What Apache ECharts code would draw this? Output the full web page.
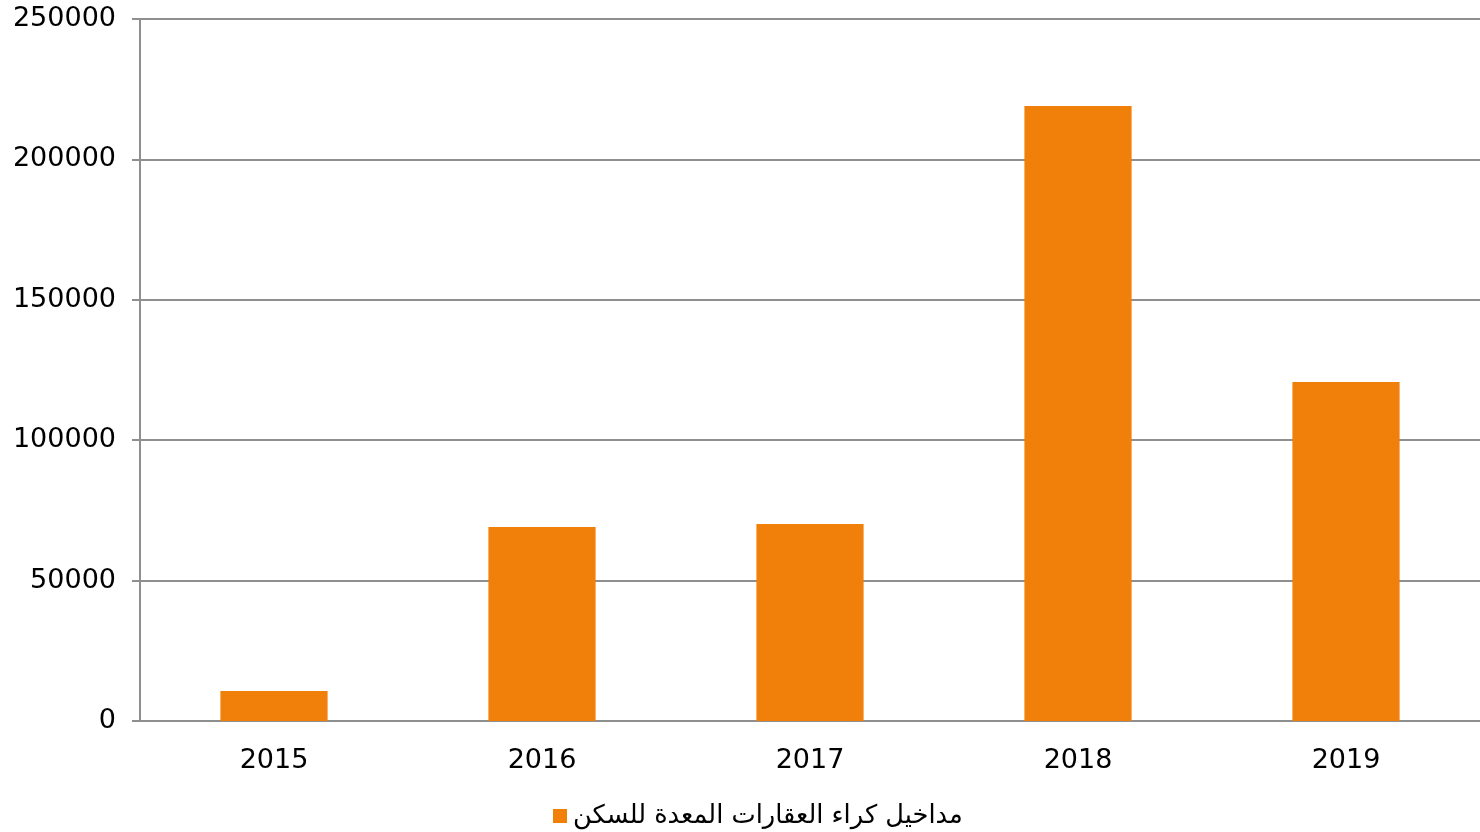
<!DOCTYPE html>
<html>
<head>
<meta charset="utf-8">
<script src="https://cdn.jsdelivr.net/npm/echarts@6/dist/echarts.min.js"></script>
<style>
  html, body { margin: 0; padding: 0; background: #fff; }
  #chart { width: 1480px; height: 832px; }
</style>
</head>
<body>
<div id="chart"></div>
<script>
const years = ["2015", "2016", "2017", "2018", "2019"];
const rentIncome = [10700, 69100, 70200, 219000, 120700];
const seriesName = "مداخيل كراء العقارات المعدة للسكن";

const axisGray = "#8f8f8f";
const chart = echarts.init(document.getElementById("chart"));

chart.setOption({
  animation: false,
  textStyle: { fontFamily: "DejaVu Sans" },
  grid: { left: 140, right: 0, top: 19, bottom: 111 },
  legend: {
    data: [seriesName],
    bottom: 3,
    left: 553,
    padding: 0,
    itemWidth: 14,
    itemHeight: 14,
    itemGap: 6,
    icon: "rect",
    textStyle: { fontSize: 25.7, color: "#000", fontFamily: "DejaVu Sans", padding: [0, 0, 0, 1] }
  },
  xAxis: {
    type: "category",
    data: years,
    axisLine: { lineStyle: { color: axisGray, width: 2 } },
    axisTick: { length: 8, lineStyle: { color: axisGray, width: 2 } },
    axisLabel: { fontSize: 27, color: "#000", margin: 26 }
  },
  yAxis: {
    type: "value",
    min: 0,
    max: 250000,
    interval: 50000,
    axisLine: { show: true, lineStyle: { color: axisGray, width: 2 } },
    axisTick: { show: true, length: 8, lineStyle: { color: axisGray, width: 2 } },
    splitLine: { lineStyle: { color: axisGray, width: 2 } },
    axisLabel: {
      fontSize: 27,
      color: "#000",
      margin: 24,
      formatter: (v) => String(v)
    }
  },
  series: [
    {
      name: seriesName,
      type: "bar",
      data: rentIncome,
      barWidth: "40%",
      itemStyle: { color: "#F08009" }
    }
  ]
});
</script>
</body>
</html>
